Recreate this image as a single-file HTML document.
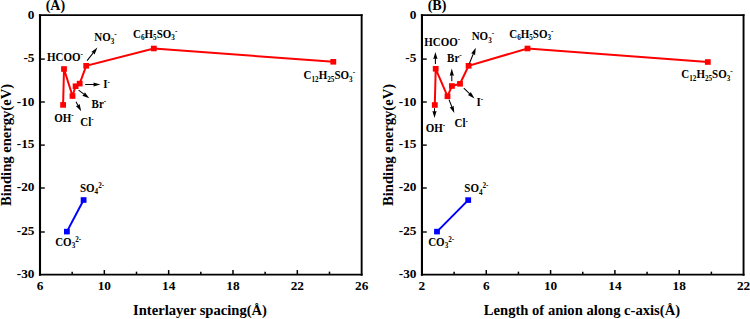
<!DOCTYPE html>
<html><head><meta charset="utf-8"><style>
html,body{margin:0;padding:0;background:#fff;width:750px;height:319px;overflow:hidden}
svg{display:block}
text{font-family:"Liberation Serif", serif;font-weight:bold;fill:#000}
</style></head><body>
<svg width="750" height="319" viewBox="0 0 750 319">
<path d="M40.0,275.65 V14.35" stroke="#000" stroke-width="2.1" fill="none"/>
<path d="M361.65,275.65 V14.35" stroke="#000" stroke-width="1.9" fill="none"/>
<path d="M38.95,15.2 H362.59999999999997" stroke="#000" stroke-width="1.7" fill="none"/>
<path d="M38.95,274.65 H362.59999999999997" stroke="#000" stroke-width="1.9" fill="none"/>
<text x="34.50" y="18.60" font-size="13.3" text-anchor="end">0</text>
<line x1="40.0" y1="59.10" x2="44.80" y2="59.10" stroke="#000" stroke-width="1.4"/>
<text x="34.50" y="61.75" font-size="13.3" text-anchor="end">-5</text>
<line x1="40.0" y1="102.00" x2="44.80" y2="102.00" stroke="#000" stroke-width="1.4"/>
<text x="34.50" y="105.60" font-size="13.3" text-anchor="end">-10</text>
<line x1="40.0" y1="145.10" x2="44.80" y2="145.10" stroke="#000" stroke-width="1.4"/>
<text x="34.50" y="148.30" font-size="13.3" text-anchor="end">-15</text>
<line x1="40.0" y1="188.00" x2="44.80" y2="188.00" stroke="#000" stroke-width="1.4"/>
<text x="34.50" y="191.00" font-size="13.3" text-anchor="end">-20</text>
<line x1="40.0" y1="232.00" x2="44.80" y2="232.00" stroke="#000" stroke-width="1.4"/>
<text x="34.50" y="235.00" font-size="13.3" text-anchor="end">-25</text>
<text x="34.50" y="278.10" font-size="13.3" text-anchor="end">-30</text>
<text x="40.00" y="290.3" font-size="13.3" text-anchor="middle">6</text>
<line x1="72.16" y1="274.65" x2="72.16" y2="271.65" stroke="#000" stroke-width="1.5"/>
<line x1="104.33" y1="274.65" x2="104.33" y2="270.05" stroke="#000" stroke-width="1.5"/>
<text x="104.33" y="290.3" font-size="13.3" text-anchor="middle">10</text>
<line x1="136.50" y1="274.65" x2="136.50" y2="271.65" stroke="#000" stroke-width="1.5"/>
<line x1="168.66" y1="274.65" x2="168.66" y2="270.05" stroke="#000" stroke-width="1.5"/>
<text x="168.66" y="290.3" font-size="13.3" text-anchor="middle">14</text>
<line x1="200.82" y1="274.65" x2="200.82" y2="271.65" stroke="#000" stroke-width="1.5"/>
<line x1="232.99" y1="274.65" x2="232.99" y2="270.05" stroke="#000" stroke-width="1.5"/>
<text x="232.99" y="290.3" font-size="13.3" text-anchor="middle">18</text>
<line x1="265.15" y1="274.65" x2="265.15" y2="271.65" stroke="#000" stroke-width="1.5"/>
<line x1="297.32" y1="274.65" x2="297.32" y2="270.05" stroke="#000" stroke-width="1.5"/>
<text x="297.32" y="290.3" font-size="13.3" text-anchor="middle">22</text>
<line x1="329.49" y1="274.65" x2="329.49" y2="271.65" stroke="#000" stroke-width="1.5"/>
<text x="361.65" y="290.3" font-size="13.3" text-anchor="middle">26</text>
<text x="200.02" y="315" font-size="14.6" text-anchor="middle">Interlayer spacing(Å)</text>
<text transform="translate(11.30,144.92) rotate(-90)" x="0" y="0" font-size="14.6" text-anchor="middle">Binding energy(eV)</text>
<text x="45.70" y="9.9" font-size="14">(A)</text>
<path d="M421.95,275.65 V14.35" stroke="#000" stroke-width="2.1" fill="none"/>
<path d="M743.55,275.65 V14.35" stroke="#000" stroke-width="1.9" fill="none"/>
<path d="M420.9,15.2 H744.5" stroke="#000" stroke-width="1.7" fill="none"/>
<path d="M420.9,274.65 H744.5" stroke="#000" stroke-width="1.9" fill="none"/>
<text x="416.45" y="18.60" font-size="13.3" text-anchor="end">0</text>
<line x1="421.95" y1="59.10" x2="426.75" y2="59.10" stroke="#000" stroke-width="1.4"/>
<text x="416.45" y="61.75" font-size="13.3" text-anchor="end">-5</text>
<line x1="421.95" y1="102.00" x2="426.75" y2="102.00" stroke="#000" stroke-width="1.4"/>
<text x="416.45" y="105.60" font-size="13.3" text-anchor="end">-10</text>
<line x1="421.95" y1="145.10" x2="426.75" y2="145.10" stroke="#000" stroke-width="1.4"/>
<text x="416.45" y="148.30" font-size="13.3" text-anchor="end">-15</text>
<line x1="421.95" y1="188.00" x2="426.75" y2="188.00" stroke="#000" stroke-width="1.4"/>
<text x="416.45" y="191.00" font-size="13.3" text-anchor="end">-20</text>
<line x1="421.95" y1="232.00" x2="426.75" y2="232.00" stroke="#000" stroke-width="1.4"/>
<text x="416.45" y="235.00" font-size="13.3" text-anchor="end">-25</text>
<text x="416.45" y="278.10" font-size="13.3" text-anchor="end">-30</text>
<text x="421.95" y="290.3" font-size="13.3" text-anchor="middle">2</text>
<line x1="454.11" y1="274.65" x2="454.11" y2="271.65" stroke="#000" stroke-width="1.5"/>
<line x1="486.27" y1="274.65" x2="486.27" y2="270.05" stroke="#000" stroke-width="1.5"/>
<text x="486.27" y="290.3" font-size="13.3" text-anchor="middle">6</text>
<line x1="518.43" y1="274.65" x2="518.43" y2="271.65" stroke="#000" stroke-width="1.5"/>
<line x1="550.59" y1="274.65" x2="550.59" y2="270.05" stroke="#000" stroke-width="1.5"/>
<text x="550.59" y="290.3" font-size="13.3" text-anchor="middle">10</text>
<line x1="582.75" y1="274.65" x2="582.75" y2="271.65" stroke="#000" stroke-width="1.5"/>
<line x1="614.91" y1="274.65" x2="614.91" y2="270.05" stroke="#000" stroke-width="1.5"/>
<text x="614.91" y="290.3" font-size="13.3" text-anchor="middle">14</text>
<line x1="647.07" y1="274.65" x2="647.07" y2="271.65" stroke="#000" stroke-width="1.5"/>
<line x1="679.23" y1="274.65" x2="679.23" y2="270.05" stroke="#000" stroke-width="1.5"/>
<text x="679.23" y="290.3" font-size="13.3" text-anchor="middle">18</text>
<line x1="711.39" y1="274.65" x2="711.39" y2="271.65" stroke="#000" stroke-width="1.5"/>
<text x="743.55" y="290.3" font-size="13.3" text-anchor="middle">22</text>
<text x="581.95" y="315" font-size="14.6" text-anchor="middle">Length of anion along c-axis(Å)</text>
<text transform="translate(393.25,144.92) rotate(-90)" x="0" y="0" font-size="14.6" text-anchor="middle">Binding energy(eV)</text>
<text x="427.65" y="9.9" font-size="14">(B)</text>
<polyline points="63.10,104.90 64.00,69.00 72.50,96.00 75.60,86.20 79.70,83.60 86.20,65.80 153.80,48.50 333.30,61.80" fill="none" stroke="#ff0000" stroke-width="2" stroke-linejoin="miter"/>
<rect x="60.20" y="102.10" width="5.8" height="5.6" fill="#ff0000"/>
<rect x="61.10" y="66.20" width="5.8" height="5.6" fill="#ff0000"/>
<rect x="69.60" y="93.20" width="5.8" height="5.6" fill="#ff0000"/>
<rect x="72.70" y="83.40" width="5.8" height="5.6" fill="#ff0000"/>
<rect x="76.80" y="80.80" width="5.8" height="5.6" fill="#ff0000"/>
<rect x="83.30" y="63.00" width="5.8" height="5.6" fill="#ff0000"/>
<rect x="150.90" y="45.70" width="5.8" height="5.6" fill="#ff0000"/>
<rect x="330.40" y="59.00" width="5.8" height="5.6" fill="#ff0000"/>
<polyline points="66.90,231.60 83.60,200.00" fill="none" stroke="#0000ff" stroke-width="2" stroke-linejoin="miter"/>
<rect x="64.00" y="228.80" width="5.8" height="5.6" fill="#0000ff"/>
<rect x="80.70" y="197.20" width="5.8" height="5.6" fill="#0000ff"/>
<polyline points="434.80,105.00 435.70,68.80 447.50,96.30 451.90,86.00 460.00,83.80 468.60,65.80 527.50,48.50 707.80,62.00" fill="none" stroke="#ff0000" stroke-width="2" stroke-linejoin="miter"/>
<rect x="431.90" y="102.20" width="5.8" height="5.6" fill="#ff0000"/>
<rect x="432.80" y="66.00" width="5.8" height="5.6" fill="#ff0000"/>
<rect x="444.60" y="93.50" width="5.8" height="5.6" fill="#ff0000"/>
<rect x="449.00" y="83.20" width="5.8" height="5.6" fill="#ff0000"/>
<rect x="457.10" y="81.00" width="5.8" height="5.6" fill="#ff0000"/>
<rect x="465.70" y="63.00" width="5.8" height="5.6" fill="#ff0000"/>
<rect x="524.60" y="45.70" width="5.8" height="5.6" fill="#ff0000"/>
<rect x="704.90" y="59.20" width="5.8" height="5.6" fill="#ff0000"/>
<polyline points="437.00,231.60 468.20,200.10" fill="none" stroke="#0000ff" stroke-width="2" stroke-linejoin="miter"/>
<rect x="434.10" y="228.80" width="5.8" height="5.6" fill="#0000ff"/>
<rect x="465.30" y="197.30" width="5.8" height="5.6" fill="#0000ff"/>
<line x1="87.10" y1="60.60" x2="94.17" y2="51.68" stroke="#000" stroke-width="1.05"/><path d="M97.40,47.60 L94.57,54.55 L93.30,52.77 L91.28,51.94 Z" fill="#000"/>
<line x1="85.20" y1="84.50" x2="95.30" y2="84.50" stroke="#000" stroke-width="1.05"/><path d="M100.50,84.50 L93.30,86.60 L93.90,84.50 L93.30,82.40 Z" fill="#000"/>
<line x1="78.60" y1="90.20" x2="85.15" y2="95.16" stroke="#000" stroke-width="1.05"/><path d="M89.30,98.30 L82.29,95.63 L84.04,94.32 L84.83,92.28 Z" fill="#000"/>
<line x1="76.00" y1="101.70" x2="78.70" y2="106.64" stroke="#000" stroke-width="1.05"/><path d="M81.20,111.20 L75.90,105.89 L78.03,105.41 L79.59,103.88 Z" fill="#000"/>
<line x1="435.40" y1="64.10" x2="435.40" y2="57.10" stroke="#000" stroke-width="1.05"/><path d="M435.40,51.90 L437.50,59.10 L435.40,58.50 L433.30,59.10 Z" fill="#000"/>
<line x1="434.50" y1="108.20" x2="434.50" y2="112.90" stroke="#000" stroke-width="1.05"/><path d="M434.50,118.10 L432.40,110.90 L434.50,111.50 L436.60,110.90 Z" fill="#000"/>
<line x1="451.80" y1="81.20" x2="451.80" y2="73.80" stroke="#000" stroke-width="1.05"/><path d="M451.80,68.60 L453.90,75.80 L451.80,75.20 L449.70,75.80 Z" fill="#000"/>
<line x1="463.80" y1="88.20" x2="470.74" y2="94.81" stroke="#000" stroke-width="1.05"/><path d="M474.50,98.40 L467.84,94.95 L469.72,93.85 L470.74,91.91 Z" fill="#000"/>
<line x1="449.00" y1="99.60" x2="452.40" y2="108.26" stroke="#000" stroke-width="1.05"/><path d="M454.30,113.10 L449.71,107.17 L451.89,106.96 L453.62,105.63 Z" fill="#000"/>
<line x1="469.10" y1="64.20" x2="473.84" y2="52.52" stroke="#000" stroke-width="1.05"/><path d="M475.80,47.70 L475.04,55.16 L473.32,53.82 L471.15,53.58 Z" fill="#000"/>
<text transform="translate(47.0,60.8) scale(0.955,1)" font-size="11.5" text-anchor="start"><tspan>HCOO</tspan><tspan font-size="7.5" dy="-3.7">-</tspan></text>
<text transform="translate(94.3,40.8) scale(0.955,1)" font-size="11.5" text-anchor="start"><tspan>NO</tspan><tspan font-size="7.5" dy="2.8">3</tspan><tspan font-size="7.5" dy="-6.5">-</tspan></text>
<text transform="translate(54.2,121.8) scale(0.955,1)" font-size="11.5" text-anchor="start"><tspan>OH</tspan><tspan font-size="7.5" dy="-3.7">-</tspan></text>
<text transform="translate(80.3,125.5) scale(0.955,1)" font-size="11.5" text-anchor="start"><tspan>Cl</tspan><tspan font-size="7.5" dy="-3.7">-</tspan></text>
<text transform="translate(91.6,108.0) scale(0.955,1)" font-size="11.5" text-anchor="start"><tspan>Br</tspan><tspan font-size="7.5" dy="-3.7">-</tspan></text>
<text transform="translate(103.3,88.4) scale(0.955,1)" font-size="11.5" text-anchor="start"><tspan>I</tspan><tspan font-size="7.5" dy="-3.7">-</tspan></text>
<text transform="translate(133.0,37.6) scale(0.955,1)" font-size="11.5" text-anchor="start"><tspan>C</tspan><tspan font-size="7.5" dy="2.8">6</tspan><tspan dy="-2.8">H</tspan><tspan font-size="7.5" dy="2.8">5</tspan><tspan dy="-2.8">SO</tspan><tspan font-size="7.5" dy="2.8">3</tspan><tspan font-size="7.5" dy="-6.5">-</tspan></text>
<text transform="translate(303.6,78.9) scale(0.955,1)" font-size="11.5" text-anchor="start"><tspan>C</tspan><tspan font-size="7.5" dy="2.8">12</tspan><tspan dy="-2.8">H</tspan><tspan font-size="7.5" dy="2.8">25</tspan><tspan dy="-2.8">SO</tspan><tspan font-size="7.5" dy="2.8">3</tspan><tspan font-size="7.5" dy="-6.5">-</tspan></text>
<text transform="translate(79.9,191.6) scale(0.955,1)" font-size="11.5" text-anchor="start"><tspan>SO</tspan><tspan font-size="7.5" dy="2.8">4</tspan><tspan font-size="7.5" dy="-6.5">2-</tspan></text>
<text transform="translate(55.2,245.6) scale(0.955,1)" font-size="11.5" text-anchor="start"><tspan>CO</tspan><tspan font-size="7.5" dy="2.8">3</tspan><tspan font-size="7.5" dy="-6.5">2-</tspan></text>
<text transform="translate(424.2,45.6) scale(0.955,1)" font-size="11.5" text-anchor="start"><tspan>HCOO</tspan><tspan font-size="7.5" dy="-3.7">-</tspan></text>
<text transform="translate(471.7,39.8) scale(0.955,1)" font-size="11.5" text-anchor="start"><tspan>NO</tspan><tspan font-size="7.5" dy="2.8">3</tspan><tspan font-size="7.5" dy="-6.5">-</tspan></text>
<text transform="translate(425.7,131.8) scale(0.955,1)" font-size="11.5" text-anchor="start"><tspan>OH</tspan><tspan font-size="7.5" dy="-3.7">-</tspan></text>
<text transform="translate(454.6,127.3) scale(0.955,1)" font-size="11.5" text-anchor="start"><tspan>Cl</tspan><tspan font-size="7.5" dy="-3.7">-</tspan></text>
<text transform="translate(447.1,61.6) scale(0.955,1)" font-size="11.5" text-anchor="start"><tspan>Br</tspan><tspan font-size="7.5" dy="-3.7">-</tspan></text>
<text transform="translate(476.5,106.0) scale(0.955,1)" font-size="11.5" text-anchor="start"><tspan>I</tspan><tspan font-size="7.5" dy="-3.7">-</tspan></text>
<text transform="translate(509.2,37.6) scale(0.955,1)" font-size="11.5" text-anchor="start"><tspan>C</tspan><tspan font-size="7.5" dy="2.8">6</tspan><tspan dy="-2.8">H</tspan><tspan font-size="7.5" dy="2.8">5</tspan><tspan dy="-2.8">SO</tspan><tspan font-size="7.5" dy="2.8">3</tspan><tspan font-size="7.5" dy="-6.5">-</tspan></text>
<text transform="translate(681.3,78.0) scale(0.955,1)" font-size="11.5" text-anchor="start"><tspan>C</tspan><tspan font-size="7.5" dy="2.8">12</tspan><tspan dy="-2.8">H</tspan><tspan font-size="7.5" dy="2.8">25</tspan><tspan dy="-2.8">SO</tspan><tspan font-size="7.5" dy="2.8">3</tspan><tspan font-size="7.5" dy="-6.5">-</tspan></text>
<text transform="translate(464.3,191.8) scale(0.955,1)" font-size="11.5" text-anchor="start"><tspan>SO</tspan><tspan font-size="7.5" dy="2.8">4</tspan><tspan font-size="7.5" dy="-6.5">2-</tspan></text>
<text transform="translate(428.2,245.5) scale(0.955,1)" font-size="11.5" text-anchor="start"><tspan>CO</tspan><tspan font-size="7.5" dy="2.8">3</tspan><tspan font-size="7.5" dy="-6.5">2-</tspan></text>
</svg>
</body></html>
